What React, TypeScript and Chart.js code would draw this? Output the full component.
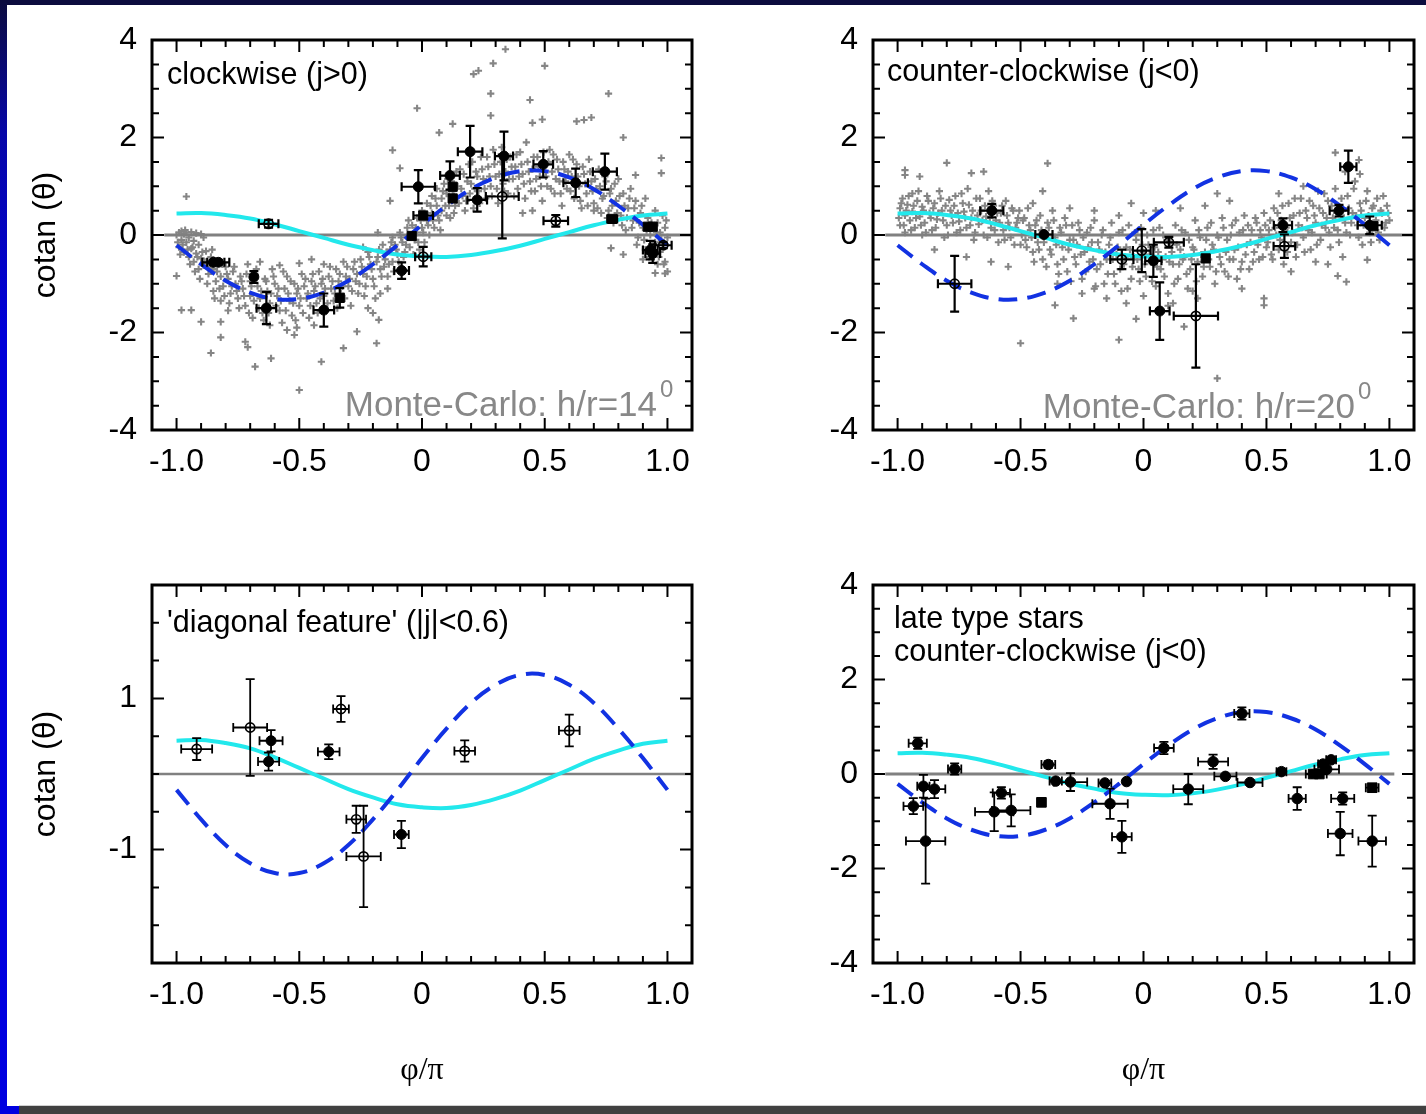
import React, { useEffect, useRef } from 'react';
import { Chart, registerables } from 'chart.js';

Chart.register(...registerables);

// ---------- axis ticks ----------
const X_LABEL_TICKS = [-1, -0.5, 0, 0.5, 1];
const X_MINOR_TICKS = [-1, -0.9, -0.8, -0.7, -0.6, -0.5, -0.4, -0.3, -0.2, -0.1, 0, 0.1, 0.2, 0.3, 0.4, 0.5, 0.6, 0.7, 0.8, 0.9, 1];
const Y_LABELS_WIDE = [-4, -2, 0, 2, 4];
const Y_MINOR_WIDE = [-3.5, -3, -2.5, -2, -1.5, -1, -0.5, 0, 0.5, 1, 1.5, 2, 2.5, 3, 3.5];
const Y_LABELS_DIAG = [-1, 1];
const Y_MINOR_DIAG = [-2, -1.5, -1, -0.5, 0, 0.5, 1, 1.5, 2];

// ---------- model curves ----------
const CURVE_X = [-1, -0.9, -0.8, -0.7, -0.6, -0.5, -0.4, -0.3, -0.2, -0.1, 0, 0.1, 0.2, 0.3, 0.4, 0.5, 0.6, 0.7, 0.8, 0.9, 1];
const CYAN_Y = [0.44, 0.45, 0.41, 0.34, 0.22, 0.08, -0.06, -0.2, -0.31, -0.4, -0.44, -0.45, -0.41, -0.33, -0.22, -0.08, 0.06, 0.2, 0.31, 0.4, 0.44];
const DASH_Y = [-0.21, -0.6, -0.94, -1.18, -1.31, -1.31, -1.18, -0.94, -0.6, -0.21, 0.21, 0.6, 0.94, 1.18, 1.31, 1.31, 1.18, 0.94, 0.6, 0.21, -0.21];

// ---------- panel 1: clockwise (j>0) ----------
// [x, y, xerr, yerr]
const P1_FILLED = [
  [-0.85, -0.56, 0.045, 0.05], [-0.83, -0.56, 0.045, 0.05], [-0.685, -0.86, 0, 0.12], [-0.634, -1.5, 0.04, 0.33],
  [-0.4, -1.54, 0.042, 0.34], [-0.083, -0.73, 0.03, 0.17], [-0.015, 0.99, 0.068, 0.34], [0.114, 1.22, 0.04, 0.29],
  [0.196, 1.71, 0.05, 0.53], [0.225, 0.72, 0.04, 0.24], [0.334, 1.62, 0.037, 0.5], [0.494, 1.45, 0.04, 0.27],
  [0.626, 1.07, 0.05, 0.29], [0.745, 1.3, 0.049, 0.37], [0.93, -0.31, 0.03, 0.19], [0.94, -0.38, 0.03, 0.19],
];
const P1_SQUARE = [
  [-0.335, -1.29, 0, 0.2], [-0.042, -0.02, 0, 0], [0.005, 0.4, 0.04, 0], [0.125, 0.99, 0, 0],
  [0.125, 0.75, 0, 0.06], [0.775, 0.33, 0.02, 0], [0.92, 0.17, 0, 0], [0.94, 0.17, 0, 0],
];
const P1_OPEN = [
  [-0.625, 0.23, 0.04, 0.08], [0.005, -0.445, 0.033, 0.2], [0.327, 0.79, 0.067, 0.86], [0.545, 0.29, 0.05, 0.12], [0.983, -0.21, 0.034, 0.06],
];
const P1_MC = [
  [-0.99, 0.05], [-0.98, -0.1], [-0.99, -0.25], [-0.97, 0.02], [-0.96, -0.15], [-0.97, -0.35], [-0.95, -0.05], [-0.94, -0.28], [-0.95, -0.45], [-0.93, -0.12],
  [-0.92, -0.38], [-0.93, -0.55], [-0.91, -0.2], [-0.9, -0.48], [-0.91, -0.7], [-0.89, -0.05], [-0.88, -0.33], [-0.89, -0.62], [-0.87, -0.8], [-0.96, 0.79],
  [-1.0, -0.84], [-0.98, -1.54], [-0.94, -1.54], [-1.0, 0.0], [-0.98, 0.08], [-0.96, 0.05], [-0.94, 0.06], [-0.92, 0.04], [-0.9, 0.02],
  [-0.86, -0.45], [-0.85, -0.7], [-0.84, -0.95], [-0.85, -1.15], [-0.83, -0.55], [-0.82, -0.85], [-0.81, -1.05], [-0.82, -1.35], [-0.8, -0.65], [-0.79, -0.9],
  [-0.78, -1.2], [-0.79, -1.55], [-0.77, -0.75], [-0.76, -1.0], [-0.75, -1.3], [-0.74, -0.85], [-0.73, -1.1], [-0.72, -1.45], [-0.71, -0.6], [-0.7, -0.95],
  [-0.7, -1.25], [-0.69, -1.7],
  [-0.9, -1.78], [-0.86, -2.42], [-0.82, -1.78], [-0.82, -2.1], [-0.72, -2.19], [-0.71, -2.3], [-0.68, -2.7], [-0.615, -2.53], [-0.52, -2.05], [-0.51, -1.9],
  [-0.41, -2.6], [-0.32, -2.32], [-0.265, -1.98], [-0.185, -2.22], [-0.176, -1.74], [-0.5, -3.18],
  [-0.68, -0.8], [-0.67, -1.05], [-0.66, -1.3], [-0.65, -1.6], [-0.64, -0.9], [-0.63, -1.15], [-0.62, -1.4], [-0.61, -0.7], [-0.6, -1.0], [-0.59, -1.25],
  [-0.58, -1.55], [-0.57, -1.8], [-0.56, -1.1], [-0.55, -0.85], [-0.54, -1.35], [-0.53, -1.65], [-0.52, -1.0], [-0.51, -1.2], [-0.5, -1.45], [-0.49, -0.8],
  [-0.48, -1.05], [-0.47, -1.3], [-0.46, -1.7], [-0.45, -0.95], [-0.44, -1.15], [-0.43, -1.4], [-0.42, -0.75], [-0.41, -1.0], [-0.4, -1.25], [-0.39, -1.55],
  [-0.38, -0.85], [-0.37, -1.1], [-0.36, -1.35], [-0.35, -0.7], [-0.34, -0.95], [-0.33, -1.2], [-0.32, -0.55], [-0.31, -0.85], [-0.3, -1.05], [-0.29, -1.45],
  [-0.66, -0.55], [-0.58, -0.62], [-0.5, -0.58], [-0.45, -0.5], [-0.4, -0.6], [-0.44, -1.85], [-0.55, -1.95], [-0.62, -1.85],
  [-0.28, -0.7], [-0.27, -0.95], [-0.26, -1.2], [-0.25, -0.5], [-0.24, -0.8], [-0.23, -1.05], [-0.22, -0.35], [-0.21, -0.6], [-0.2, -0.9], [-0.19, -1.3],
  [-0.18, -0.45], [-0.17, -0.7], [-0.16, -0.2], [-0.15, -0.5], [-0.14, -0.85], [-0.13, -0.3], [-0.12, -0.05], [-0.12, -0.55], [-0.11, -0.2], [-0.1, -0.4],
  [-0.09, 0.05], [-0.08, -0.15], [-0.07, -0.35], [-0.06, 0.15], [-0.06, -0.05], [-0.05, -0.25], [-0.22, -1.5], [-0.2, -1.6], [-0.17, -1.2], [-0.14, -1.1],
  [-0.24, -0.25], [-0.18, 0.05], [-0.12, 1.74], [-0.13, 0.7], [-0.09, 1.37],
  [-0.04, 0.2], [-0.03, -0.1], [-0.02, 0.35], [-0.02, 0.05], [-0.01, -0.3], [0.0, 0.5], [0.0, 0.15], [0.01, -0.15], [0.02, 0.65], [0.02, 0.3],
  [0.03, 0.0], [0.04, 0.45], [0.04, 0.8], [0.05, 0.15], [0.06, 0.6], [0.06, 0.95], [0.07, 0.3], [0.08, 0.75], [0.08, 0.5], [0.09, 1.05],
  [0.1, 0.4], [0.1, 0.85], [0.11, 0.6], [0.12, 1.1], [0.13, 0.45], [0.13, 0.8], [0.14, 1.3], [0.15, 0.65], [-0.02, 2.6], [0.07, 2.1], [0.125, 2.28],
  [0.16, 0.95], [0.17, 1.25], [0.18, 0.7], [0.19, 1.45], [0.2, 1.05], [0.21, 0.55], [0.22, 1.3], [0.23, 0.9], [0.24, 1.6], [0.25, 1.15],
  [0.26, 0.75], [0.27, 1.4], [0.28, 1.0], [0.29, 1.75], [0.3, 1.2], [0.31, 0.65], [0.32, 1.5], [0.33, 1.05], [0.34, 1.3], [0.35, 0.85],
  [0.36, 1.6], [0.37, 1.15], [0.38, 1.4], [0.39, 0.95], [0.4, 1.7], [0.41, 1.25], [0.42, 0.75], [0.43, 1.5], [0.44, 1.1], [0.45, 1.35],
  [0.34, 3.81], [0.29, 3.52], [0.21, 3.3], [0.23, 3.37], [0.5, 3.47], [0.28, 2.9], [0.44, 2.77], [0.28, 2.45], [0.45, 2.3], [0.49, 2.37],
  [0.76, 2.9], [0.82, 2.0], [0.63, 2.33], [0.66, 2.36], [0.69, 2.41],
  [0.46, 0.9], [0.47, 1.6], [0.48, 1.2], [0.49, 0.7], [0.5, 1.45], [0.51, 1.0], [0.52, 1.75], [0.53, 1.3], [0.54, 0.85], [0.55, 1.55],
  [0.56, 1.1], [0.57, 0.6], [0.58, 1.35], [0.59, 0.95], [0.6, 1.65], [0.61, 1.2], [0.62, 0.75], [0.63, 1.45], [0.64, 1.0], [0.65, 0.55],
  [0.66, 1.25], [0.67, 0.85], [0.68, 1.55], [0.69, 1.1], [0.7, 0.65], [0.71, 0.95], [0.72, 1.35], [0.73, 0.45], [0.74, 0.8], [0.75, 1.1],
  [0.41, 0.45], [0.45, 0.5], [0.7, 0.5],
  [0.76, 0.5], [0.77, 0.95], [0.78, 0.25], [0.79, 0.7], [0.8, 1.15], [0.81, 0.4], [0.82, 0.85], [0.83, 0.1], [0.84, 0.55], [0.85, 0.95],
  [0.86, 0.3], [0.87, 0.7], [0.88, -0.05], [0.89, 0.45], [0.9, 0.15], [0.91, 0.75], [0.91, -0.3], [0.92, 0.35], [0.93, 0.0], [0.94, -0.45],
  [0.95, 0.5], [0.95, -0.15], [0.96, 0.25], [0.96, -0.6], [0.97, 0.05], [0.97, -0.35], [0.98, 0.4], [0.98, -0.2], [0.99, -0.55], [0.99, 0.15],
  [1.0, -0.05], [1.0, -0.75], [0.975, 1.58], [0.975, 1.27], [0.87, 1.23], [0.99, -0.79], [0.95, -0.78], [0.77, -0.27], [0.82, -0.4], [0.9, -0.5],
  [-0.995, -0.15], [-0.985, -0.4], [-0.975, -0.2], [-0.965, 0.1], [-0.955, -0.3], [-0.945, -0.6], [-0.935, -0.25], [-0.925, -0.75], [-0.915, -0.45], [-0.905, -0.9],
  [-0.895, -0.35], [-0.885, -0.55], [-0.875, -1.0], [-0.865, -0.65], [-0.855, -0.3],
  [-0.845, -1.3], [-0.835, -0.75], [-0.825, -1.1], [-0.815, -0.6], [-0.805, -1.25], [-0.795, -0.8], [-0.785, -1.4], [-0.775, -1.05], [-0.765, -0.65], [-0.755, -1.15],
  [-0.745, -1.5], [-0.735, -0.95], [-0.725, -1.25], [-0.715, -0.8], [-0.705, -1.6], [-0.695, -1.05], [-0.685, -1.35], [-0.675, -0.7], [-0.665, -1.5], [-0.655, -1.15],
  [-0.645, -1.75], [-0.635, -0.95], [-0.625, -1.6], [-0.615, -1.2], [-0.605, -0.85], [-0.595, -1.45], [-0.585, -1.1], [-0.575, -1.35], [-0.565, -0.75], [-0.555, -1.55],
  [-0.545, -1.2], [-0.535, -0.95], [-0.525, -1.4], [-0.515, -1.75], [-0.505, -1.1], [-0.495, -1.3], [-0.485, -1.6], [-0.475, -0.9], [-0.465, -1.2], [-0.455, -1.45],
  [-0.445, -0.8], [-0.435, -1.05], [-0.425, -1.6], [-0.415, -1.3], [-0.405, -0.9], [-0.395, -1.1], [-0.385, -1.4], [-0.375, -0.65], [-0.365, -0.95], [-0.355, -1.2],
  [-0.345, -1.5], [-0.335, -0.8], [-0.325, -1.05], [-0.315, -1.3], [-0.305, -0.65],
  [-0.295, -0.9], [-0.285, -1.15], [-0.275, -0.55], [-0.265, -0.8], [-0.255, -1.0], [-0.245, -0.65], [-0.235, -1.25], [-0.225, -0.85], [-0.215, -0.45], [-0.205, -0.7],
  [-0.195, -1.05], [-0.185, -0.55], [-0.175, -0.3], [-0.165, -0.85], [-0.155, -0.65], [-0.145, -0.35], [-0.135, -0.6], [-0.125, -0.15], [-0.115, -0.75], [-0.105, -0.3],
  [-0.095, -0.55], [-0.085, -0.05], [-0.075, -0.45], [-0.065, -0.2], [-0.055, 0.3], [-0.045, -0.05], [-0.035, -0.4], [-0.025, 0.15], [-0.015, -0.15], [-0.005, 0.3],
  [0.005, 0.05], [0.015, 0.4], [0.025, 0.2], [0.035, 0.6], [0.045, 0.3], [0.055, 0.75], [0.065, 0.4], [0.075, 0.1], [0.085, 0.9], [0.095, 0.6],
  [0.105, 1.15], [0.115, 0.35], [0.125, 0.9], [0.135, 0.6], [0.145, 1.0], [0.155, 1.35], [0.165, 0.8], [0.175, 0.5], [0.185, 1.1], [0.195, 0.85],
  [0.205, 1.5], [0.215, 0.95], [0.225, 1.2], [0.235, 0.65], [0.245, 1.35], [0.255, 0.95], [0.265, 1.6], [0.275, 1.2], [0.285, 0.8], [0.295, 1.45],
  [0.305, 0.95], [0.315, 1.25], [0.325, 1.8], [0.335, 0.9], [0.345, 1.55], [0.355, 1.15], [0.365, 1.4], [0.375, 0.8], [0.385, 1.65], [0.395, 1.2],
  [0.405, 1.45], [0.415, 1.05], [0.425, 1.9], [0.435, 1.3], [0.445, 0.9], [0.455, 1.6], [0.465, 1.15], [0.475, 1.4], [0.485, 1.0], [0.495, 1.7],
  [0.505, 1.2], [0.515, 1.5], [0.525, 0.95], [0.535, 1.65], [0.545, 1.15], [0.555, 1.35], [0.565, 0.85], [0.575, 1.5], [0.585, 1.1], [0.595, 1.3],
  [0.605, 0.9], [0.615, 1.55], [0.625, 1.0], [0.635, 1.2], [0.645, 0.7], [0.655, 1.4], [0.665, 1.05], [0.675, 0.6], [0.685, 1.3], [0.695, 0.9],
  [0.705, 1.15], [0.715, 0.55], [0.725, 1.0], [0.735, 0.75], [0.745, 1.2], [0.755, 0.35], [0.765, 0.85], [0.775, 0.6], [0.785, 1.05], [0.795, 0.45],
  [0.805, 0.8], [0.815, 0.2], [0.825, 0.6], [0.835, 0.35], [0.845, 0.75], [0.855, 0.15], [0.865, 0.55], [0.875, -0.2], [0.885, 0.25], [0.895, 0.6],
  [0.905, -0.1], [0.915, 0.1], [0.925, -0.45], [0.935, 0.25], [0.945, -0.2], [0.955, 0.05], [0.965, -0.45], [0.975, -0.1], [0.985, -0.6], [0.995, 0.3],
];

// ---------- panel 2: counter-clockwise (j<0) ----------
const P2_FILLED = [
  [-0.617, 0.5, 0.047, 0.14], [-0.405, 0.01, 0.035, 0], [0.04, -0.53, 0.033, 0.33], [0.066, -1.56, 0.04, 0.59],
  [0.567, 0.2, 0.037, 0.14], [0.795, 0.5, 0.038, 0.12], [0.833, 1.4, 0.033, 0.33], [0.92, 0.2, 0.049, 0.18],
];
const P2_SQUARE = [[0.253, -0.48, 0, 0], [0.935, 0.18, 0, 0]];
const P2_OPEN = [
  [-0.768, -1.0, 0.068, 0.57], [-0.088, -0.5, 0.047, 0.2], [-0.007, -0.32, 0.036, 0.44], [0.103, -0.15, 0.061, 0.11],
  [0.213, -1.66, 0.09, 1.06], [0.573, -0.23, 0.044, 0.24],
];
const P2_MC = [
  [-0.99, 0.55], [-0.99, 0.2], [-0.98, 0.75], [-0.97, 0.4], [-0.97, 0.05], [-0.96, 0.62], [-0.95, 0.3], [-0.94, 0.85], [-0.94, 0.48], [-0.93, 0.15],
  [-0.92, 0.7], [-0.91, 0.38], [-0.9, 0.58], [-0.9, 0.0], [-0.89, 0.25], [-0.88, 0.8], [-0.87, 0.45], [-0.86, 0.1], [-0.85, 0.65], [-0.84, 0.32],
  [-0.83, 0.9], [-0.82, 0.5], [-0.81, -0.05], [-0.8, 0.2], [-0.79, 0.72], [-0.78, 0.4], [-0.77, 0.6], [-0.76, 0.05], [-0.75, 0.28], [-0.74, 0.85],
  [-0.73, 0.48], [-0.72, 0.15], [-0.71, 0.62], [-0.7, 0.35], [-0.69, -0.1], [-0.68, 0.75], [-0.67, 0.22], [-0.66, 0.5], [-0.65, 0.0], [-0.64, 0.38],
  [-0.63, 0.9], [-0.62, 0.15], [-0.61, 0.6], [-0.6, 0.3], [-0.59, -0.15], [-0.58, 0.45], [-0.57, 0.1], [-0.56, 0.7], [-0.55, 0.25], [-0.54, -0.05],
  [-0.53, 0.5], [-0.52, 0.15], [-0.51, 0.35], [-0.5, -0.2],
  [-0.8, 1.48], [-0.39, 1.47], [-0.97, 1.33], [-0.97, 1.23], [-0.91, 1.2], [-0.7, 1.27], [-0.65, 1.3], [-0.5, -2.22], [-0.285, -1.71], [-0.36, -1.44],
  [-0.1, -2.15], [-0.03, -1.72], [0.3, -2.94], [0.49, -1.44], [0.49, -1.3], [0.165, -1.88], [0.825, -0.96], [0.79, -0.84], [0.91, -0.51], [0.78, 1.69],
  [0.876, 1.54], [-0.62, -0.55], [-0.55, -0.65], [-0.72, -0.45], [-0.85, -0.3],
  [-0.2, -1.1], [0.0, -1.25], [0.1, -1.45], [0.2, -1.15], [-0.35, -1.0],
  [-0.49, 0.3], [-0.48, -0.1], [-0.47, 0.55], [-0.46, 0.1], [-0.45, -0.35], [-0.44, 0.2], [-0.43, -0.15], [-0.42, 0.4], [-0.41, -0.5], [-0.4, 0.0],
  [-0.39, 0.25], [-0.38, -0.3], [-0.37, 0.5], [-0.36, -0.05], [-0.35, -0.6], [-0.34, 0.15], [-0.33, -0.25], [-0.32, 0.35], [-0.31, -0.75], [-0.3, -0.1],
  [-0.29, 0.2], [-0.28, -0.45], [-0.27, -0.2], [-0.26, 0.1], [-0.25, -0.9], [-0.24, -0.35], [-0.23, 0.05], [-0.22, -0.55], [-0.21, -0.15], [-0.2, 0.3],
  [-0.19, -0.7], [-0.18, -0.3], [-0.17, 0.0], [-0.16, -1.0], [-0.15, -0.5], [-0.14, -0.2], [-0.13, 0.25], [-0.12, -0.8], [-0.11, -0.4], [-0.1, 0.05],
  [-0.09, -1.15], [-0.08, -0.6], [-0.07, -0.25], [-0.06, 0.2], [-0.05, -0.9], [-0.04, -0.45], [-0.03, -0.1], [-0.02, -0.7], [-0.01, 0.15], [0.0, -0.35],
  [-0.45, 0.65], [-0.3, 0.55], [-0.2, 0.5], [-0.1, 0.4], [0.0, 0.45], [-0.15, -1.3], [-0.07, -1.4], [-0.25, -1.2], [-0.41, 0.9], [-0.05, 0.65],
  [0.01, -0.85], [0.02, -0.2], [0.03, -0.55], [0.04, 0.1], [0.05, -1.05], [0.06, -0.35], [0.07, -0.7], [0.08, 0.0], [0.09, -0.45], [0.1, -1.2],
  [0.11, -0.15], [0.12, -0.6], [0.13, 0.2], [0.14, -0.9], [0.15, -0.3], [0.16, -0.5], [0.17, 0.05], [0.18, -1.1], [0.19, -0.7], [0.2, -0.25],
  [0.21, 0.3], [0.22, -0.55], [0.23, -0.05], [0.24, -0.85], [0.25, -0.35], [0.26, 0.15], [0.27, -0.65], [0.28, -0.2], [0.29, -1.0], [0.3, 0.0],
  [0.31, -0.45], [0.32, 0.35], [0.33, -0.75], [0.34, -0.1], [0.35, -0.5], [0.36, 0.2], [0.37, -0.3], [0.38, -0.9], [0.39, 0.05], [0.4, -0.55],
  [0.41, 0.4], [0.42, -0.2], [0.43, -0.7], [0.44, 0.1], [0.45, -0.35], [0.46, 0.25], [0.47, -0.5], [0.48, -0.05], [0.49, 0.45], [0.5, -0.25],
  [0.05, 0.5], [0.15, 0.55], [0.25, 0.6], [0.35, 0.7], [0.12, -1.4], [0.22, -1.3], [0.4, -1.1], [0.3, 0.85],
  [0.51, 0.1], [0.52, -0.4], [0.53, 0.55], [0.54, 0.0], [0.55, -0.3], [0.56, 0.3], [0.57, -0.6], [0.58, 0.15], [0.59, 0.65], [0.6, -0.15],
  [0.61, 0.4], [0.62, -0.45], [0.63, 0.2], [0.64, 0.75], [0.65, -0.05], [0.66, 0.5], [0.67, 0.1], [0.68, -0.3], [0.69, 0.6], [0.7, 0.25],
  [0.71, 0.9], [0.72, -0.1], [0.73, 0.45], [0.74, 0.15], [0.75, 0.7], [0.76, -0.25], [0.77, 0.35], [0.78, 0.95], [0.79, 0.1], [0.8, 0.55],
  [0.81, -0.45], [0.82, 0.25], [0.83, 0.8], [0.84, 0.0], [0.85, 0.45], [0.86, 1.1], [0.87, 0.2], [0.88, 0.65], [0.89, -0.2], [0.9, 0.35],
  [0.91, 0.9], [0.92, 0.05], [0.93, 0.55], [0.94, 0.25], [0.95, 0.75], [0.96, -0.1], [0.97, 0.45], [0.98, 0.15], [0.99, 0.6], [1.0, 0.3],
  [0.55, 0.85], [0.65, 1.0], [0.82, 1.3], [0.88, 1.25], [0.6, -0.75], [0.7, -0.55], [0.75, -0.6],
  [-0.995, 0.35], [-0.985, 0.65], [-0.975, 0.2], [-0.965, 0.5], [-0.955, 0.8], [-0.945, 0.1], [-0.935, 0.6], [-0.925, 0.35], [-0.915, 0.9], [-0.905, 0.2],
  [-0.895, 0.5], [-0.885, 0.05], [-0.875, 0.7], [-0.865, 0.35], [-0.855, 0.55], [-0.845, 0.15], [-0.835, 0.45], [-0.825, 0.75], [-0.815, 0.3], [-0.805, 0.6],
  [-0.795, 0.0], [-0.785, 0.5], [-0.775, 0.25], [-0.765, 0.8], [-0.755, 0.45], [-0.745, 0.1], [-0.735, 0.65], [-0.725, 0.35], [-0.715, 0.95], [-0.705, 0.2],
  [-0.695, 0.5], [-0.685, 0.05], [-0.675, 0.4], [-0.665, 0.75], [-0.655, 0.3], [-0.645, 0.6], [-0.635, -0.05], [-0.625, 0.35], [-0.615, 0.7], [-0.605, 0.1],
  [-0.595, 0.45], [-0.585, 0.25], [-0.575, 0.6], [-0.565, -0.1], [-0.555, 0.4], [-0.545, 0.15], [-0.535, 0.55], [-0.525, -0.2], [-0.515, 0.25], [-0.505, 0.5],
  [-0.495, 0.0], [-0.485, 0.35], [-0.475, -0.25], [-0.465, 0.2], [-0.455, -0.05], [-0.445, -0.55], [-0.435, 0.3], [-0.425, -0.3], [-0.415, 0.1], [-0.405, -0.15],
  [-0.395, -0.65], [-0.385, 0.15], [-0.375, -0.4], [-0.365, 0.3], [-0.355, -0.2], [-0.345, -0.8], [-0.335, 0.05], [-0.325, -0.5], [-0.315, 0.2], [-0.305, -0.3],
  [-0.295, -0.95], [-0.285, -0.1], [-0.275, -0.6], [-0.265, 0.25], [-0.255, -0.4], [-0.245, -0.05], [-0.235, -0.75], [-0.225, -0.25], [-0.215, 0.15], [-0.205, -0.5],
  [-0.195, -1.05], [-0.185, -0.15], [-0.175, -0.6], [-0.165, 0.1], [-0.155, -0.35], [-0.145, -0.8], [-0.135, -0.05], [-0.125, -0.5], [-0.115, -1.0], [-0.105, -0.25],
  [-0.095, -0.7], [-0.085, 0.1], [-0.075, -0.45], [-0.065, -1.1], [-0.055, -0.3], [-0.045, -0.65], [-0.035, 0.05], [-0.025, -0.5], [-0.015, -0.95], [-0.005, -0.2],
  [0.005, -0.6], [0.015, 0.0], [0.025, -0.4], [0.035, -0.95], [0.045, -0.25], [0.055, -0.65], [0.065, 0.15], [0.075, -0.5], [0.085, -0.85], [0.095, -0.1],
  [0.105, -0.55], [0.115, -0.35], [0.125, -1.0], [0.135, -0.2], [0.145, -0.6], [0.155, 0.1], [0.165, -0.45], [0.175, -0.8], [0.185, -0.1], [0.195, -0.5],
  [0.205, -0.3], [0.215, -0.95], [0.225, 0.1], [0.235, -0.4], [0.245, -0.65], [0.255, -0.1], [0.265, -0.5], [0.275, 0.25], [0.285, -0.3], [0.295, -0.75],
  [0.305, -0.05], [0.315, -0.6], [0.325, 0.15], [0.335, -0.35], [0.345, -0.85], [0.355, 0.0], [0.365, -0.5], [0.375, 0.3], [0.385, -0.25], [0.395, -0.7],
  [0.405, 0.1], [0.415, -0.4], [0.425, 0.2], [0.435, -0.15], [0.445, -0.55], [0.455, 0.35], [0.465, -0.2], [0.475, 0.1], [0.485, -0.45], [0.495, 0.2],
  [0.505, -0.15], [0.515, 0.3], [0.525, -0.5], [0.535, 0.15], [0.545, 0.45], [0.555, -0.1], [0.565, 0.6], [0.575, 0.1], [0.585, -0.35], [0.595, 0.35],
  [0.605, 0.05], [0.615, 0.75], [0.625, -0.2], [0.635, 0.45], [0.645, 0.15], [0.655, -0.35], [0.665, 0.35], [0.675, 0.7], [0.685, 0.05], [0.695, 0.4],
  [0.705, -0.2], [0.715, 0.55], [0.725, 0.2], [0.735, 0.85], [0.745, 0.35], [0.755, 0.05], [0.765, 0.6], [0.775, 0.15], [0.785, 0.45], [0.795, -0.15],
  [0.805, 0.75], [0.815, 0.35], [0.825, 0.05], [0.835, 0.55], [0.845, 0.25], [0.855, 0.95], [0.865, 0.4], [0.875, -0.05], [0.885, 0.5], [0.895, 0.2],
  [0.905, 0.7], [0.915, 0.4], [0.925, -0.15], [0.935, 0.6], [0.945, 0.3], [0.955, 0.05], [0.965, 0.5], [0.975, 0.8], [0.985, 0.25], [0.995, 0.45],
];

// ---------- panel 3: 'diagonal feature' ----------
const P3_FILLED = [[-0.615, 0.44, 0.047, 0.14], [-0.625, 0.164, 0.043, 0.12], [-0.38, 0.295, 0.044, 0.097], [-0.084, -0.8, 0.03, 0.18]];
const P3_SQUARE: number[][] = [];
const P3_OPEN = [
  [-0.918, 0.33, 0.063, 0.145], [-0.7, 0.615, 0.069, 0.64], [-0.33, 0.86, 0.032, 0.17], [-0.268, -0.6, 0.04, 0.18],
  [-0.238, -1.09, 0.07, 0.67], [0.174, 0.305, 0.042, 0.14], [0.6, 0.575, 0.042, 0.21],
];

// ---------- panel 4: late type stars ----------
const P4_FILLED = [
  [-0.918, 0.65, 0.037, 0.12], [-0.936, -0.68, 0.04, 0.17], [-0.895, -0.26, 0.025, 0.24], [-0.886, -1.42, 0.08, 0.9],
  [-0.85, -0.32, 0.044, 0.19], [-0.768, 0.105, 0.027, 0.12], [-0.607, -0.8, 0.078, 0.41], [-0.578, -0.4, 0.035, 0.12],
  [-0.538, -0.77, 0.078, 0.34], [-0.387, 0.2, 0.028, 0.07], [-0.357, -0.15, 0.025, 0], [-0.297, -0.17, 0.068, 0.19],
  [-0.157, -0.19, 0.026, 0], [-0.136, -0.63, 0.072, 0.32], [-0.088, -1.33, 0.04, 0.34], [-0.069, -0.16, 0, 0],
  [0.083, 0.55, 0.04, 0.13], [0.182, -0.32, 0.061, 0.32], [0.283, 0.26, 0.061, 0.15], [0.333, -0.05, 0.045, 0],
  [0.4, 1.28, 0.031, 0.13], [0.433, -0.18, 0.051, 0], [0.561, 0.05, 0.02, 0], [0.625, -0.52, 0.035, 0.24],
  [0.73, 0.21, 0.02, 0], [0.745, 0.1, 0.05, 0], [0.763, 0.3, 0.02, 0], [0.81, -0.52, 0.047, 0.13],
  [0.8, -1.26, 0.05, 0.46], [0.93, -1.42, 0.056, 0.54],
];
const P4_SQUARE = [[-0.415, -0.6, 0, 0], [0.69, 0.0, 0.03, 0], [0.715, 0.0, 0.03, 0], [0.93, -0.29, 0.026, 0]];
const P4_OPEN: number[][] = [];

const SANS = '"Liberation Sans", Arial, Helvetica, sans-serif';
const SERIF = '"Liberation Serif", "Times New Roman", serif';
const GREY = '#808080';
const CYAN = '#22e8ec';
const BLUE = '#1232e2';

type TextItem = { text: string; x: number; y: number; size: number; color: string; align: CanvasTextAlign; baseline: CanvasTextBaseline; anchorX: 'left' | 'right'; anchorY: 'top' | 'bottom' };

interface Panel {
  key: string;
  left: number; top: number; width: number; height: number;
  yAxisW: number; padTop: number; padRight: number; padBottom: number; xAxisH: number;
  yMin: number; yMax: number; yLabels: number[]; yMinor: number[];
  filled: number[][]; open: number[][]; squares: number[][]; mc: number[][];
  zero: [number, number]; zeroWidth: number; errWidth: number; markerScale: number;
  yTitle: boolean; xTitle: boolean;
  texts: TextItem[];
}

const txt = (text: string, anchorX: 'left' | 'right', x: number, anchorY: 'top' | 'bottom', y: number, size: number, color = '#000', baseline: CanvasTextBaseline = 'middle'): TextItem => ({
  text, x, y, size, color, align: anchorX === 'left' ? 'left' : 'right', baseline, anchorX, anchorY,
});

const PANELS: Panel[] = [
  {
    key: 'p1', left: 0, top: 0, width: 713, height: 540,
    yAxisW: 152, padTop: 40, padRight: 21, padBottom: 40, xAxisH: 70,
    yMin: -4, yMax: 4, yLabels: Y_LABELS_WIDE, yMinor: Y_MINOR_WIDE,
    filled: P1_FILLED, open: P1_OPEN, squares: P1_SQUARE, mc: P1_MC,
    zero: [-1.05, 1.1], zeroWidth: 3, errWidth: 2.2, markerScale: 1,
    yTitle: true, xTitle: false,
    texts: [
      txt('clockwise (j>0)', 'left', 15, 'top', 36, 30.5),
      txt('Monte-Carlo: h/r=14', 'right', 35, 'bottom', 14, 35, '#888888', 'alphabetic'),
      { text: '0', x: 32, y: 33, size: 24, color: '#888888', align: 'left', baseline: 'alphabetic', anchorX: 'right', anchorY: 'bottom' },
    ],
  },
  {
    key: 'p2', left: 713, top: 0, width: 713, height: 540,
    yAxisW: 160, padTop: 40, padRight: 12, padBottom: 40, xAxisH: 70,
    yMin: -4, yMax: 4, yLabels: Y_LABELS_WIDE, yMinor: Y_MINOR_WIDE,
    filled: P2_FILLED, open: P2_OPEN, squares: P2_SQUARE, mc: P2_MC,
    zero: [-1.05, 1.1], zeroWidth: 3, errWidth: 2.2, markerScale: 1,
    yTitle: false, xTitle: false,
    texts: [
      txt('counter-clockwise (j<0)', 'left', 14, 'top', 33, 30.5),
      txt('Monte-Carlo: h/r=20', 'right', 59, 'bottom', 12, 35, '#888888', 'alphabetic'),
      { text: '0', x: 56, y: 31, size: 24, color: '#888888', align: 'left', baseline: 'alphabetic', anchorX: 'right', anchorY: 'bottom' },
    ],
  },
  {
    key: 'p3', left: 0, top: 540, width: 713, height: 574,
    yAxisW: 152, padTop: 45, padRight: 21, padBottom: 11, xAxisH: 140,
    yMin: -2.5, yMax: 2.5, yLabels: Y_LABELS_DIAG, yMinor: Y_MINOR_DIAG,
    filled: P3_FILLED, open: P3_OPEN, squares: P3_SQUARE, mc: [],
    zero: [-1.1, 1.1], zeroWidth: 2.5, errWidth: 1.8, markerScale: 1,
    yTitle: true, xTitle: true,
    texts: [txt("'diagonal feature' (|j|<0.6)", 'left', 15, 'top', 39, 30.5)],
  },
  {
    key: 'p4', left: 713, top: 540, width: 713, height: 574,
    yAxisW: 160, padTop: 45, padRight: 12, padBottom: 11, xAxisH: 140,
    yMin: -4, yMax: 4, yLabels: Y_LABELS_WIDE, yMinor: Y_MINOR_WIDE,
    filled: P4_FILLED, open: P4_OPEN, squares: P4_SQUARE, mc: [],
    zero: [-1.05, 1.02], zeroWidth: 3, errWidth: 1.8, markerScale: 1.05,
    yTitle: false, xTitle: true,
    texts: [
      txt('late type stars', 'left', 21, 'top', 35, 30.5),
      txt('counter-clockwise (j<0)', 'left', 21, 'top', 68, 30.5),
    ],
  },
];

const toPts = (arr: number[][]) => arr.map((r) => ({ x: r[0], y: r[1], ex: r[2] || 0, ey: r[3] || 0 }));
const fmtX = (v: number) => (v === 0 ? '0' : v.toFixed(1));

function buildConfig(p: Panel): any {
  const decor = {
    id: 'decor_' + p.key,
    beforeDatasetDraw(chart: any, args: any) {
      const ds = chart.data.datasets[args.index];
      if (!ds.errorBars) return;
      const { ctx, chartArea: a } = chart;
      const xs = chart.scales.x;
      const ys = chart.scales.y;
      ctx.save();
      ctx.beginPath();
      ctx.rect(a.left, a.top, a.right - a.left, a.bottom - a.top);
      ctx.clip();
      ctx.strokeStyle = '#000';
      ctx.lineWidth = p.errWidth;
      const cap = 4.5;
      for (const d of ds.data) {
        const px = xs.getPixelForValue(d.x);
        const py = ys.getPixelForValue(d.y);
        ctx.beginPath();
        if (d.ex) {
          const x0 = xs.getPixelForValue(d.x - d.ex);
          const x1 = xs.getPixelForValue(d.x + d.ex);
          ctx.moveTo(x0, py); ctx.lineTo(x1, py);
          ctx.moveTo(x0, py - cap); ctx.lineTo(x0, py + cap);
          ctx.moveTo(x1, py - cap); ctx.lineTo(x1, py + cap);
        }
        if (d.ey) {
          const y0 = ys.getPixelForValue(d.y - d.ey);
          const y1 = ys.getPixelForValue(d.y + d.ey);
          ctx.moveTo(px, y0); ctx.lineTo(px, y1);
          ctx.moveTo(px - cap, y0); ctx.lineTo(px + cap, y0);
          ctx.moveTo(px - cap, y1); ctx.lineTo(px + cap, y1);
        }
        ctx.stroke();
      }
      ctx.restore();
    },
    afterDraw(chart: any) {
      const { ctx, chartArea: a } = chart;
      const xs = chart.scales.x;
      const ys = chart.scales.y;
      ctx.save();
      ctx.strokeStyle = '#000';
      ctx.lineWidth = 2;
      ctx.beginPath();
      for (const v of X_MINOR_TICKS) {
        const px = xs.getPixelForValue(v);
        const L = X_LABEL_TICKS.includes(v) ? 12 : 7;
        ctx.moveTo(px, a.bottom); ctx.lineTo(px, a.bottom - L);
        ctx.moveTo(px, a.top); ctx.lineTo(px, a.top + L);
      }
      for (const v of p.yMinor) {
        const py = ys.getPixelForValue(v);
        const L = p.yLabels.includes(v) ? 12 : 7;
        ctx.moveTo(a.left, py); ctx.lineTo(a.left + L, py);
        ctx.moveTo(a.right, py); ctx.lineTo(a.right - L, py);
      }
      ctx.stroke();
      ctx.lineWidth = 3;
      ctx.strokeRect(a.left, a.top, a.right - a.left, a.bottom - a.top);
      for (const t of p.texts) {
        ctx.font = `${t.size}px ${SANS}`;
        ctx.fillStyle = t.color;
        ctx.textAlign = t.align;
        ctx.textBaseline = t.baseline;
        const x = t.anchorX === 'left' ? a.left + t.x : a.right - t.x;
        const y = t.anchorY === 'top' ? a.top + t.y : a.bottom - t.y;
        ctx.fillText(t.text, x, y);
      }
      ctx.restore();
    },
  };

  const curve = (ys: number[]) => CURVE_X.map((x, i) => ({ x, y: ys[i] }));
  const s = p.markerScale;

  const datasets: any[] = [
    {
      label: 'filled', data: toPts(p.filled), errorBars: true, order: 0,
      pointStyle: 'circle', pointRadius: 5 * s, backgroundColor: '#000', borderColor: '#000', borderWidth: 1,
    },
    {
      label: 'squares', data: toPts(p.squares), errorBars: true, order: 0,
      pointStyle: 'rect', pointRadius: 6.5 * s, backgroundColor: '#000', borderColor: '#000', borderWidth: 1,
    },
    {
      label: 'open', data: toPts(p.open), errorBars: true, order: 0,
      pointStyle: 'circle', pointRadius: 4.6 * s, backgroundColor: 'rgba(0,0,0,0)', borderColor: '#000', borderWidth: 1.7,
    },
    {
      label: 'dashed model', data: curve(DASH_Y), showLine: true, order: 1, pointRadius: 0,
      borderColor: BLUE, borderWidth: 4, borderDash: [19, 10], tension: 0.4, fill: false,
    },
    {
      label: 'cyan model', data: curve(CYAN_Y), showLine: true, order: 2, pointRadius: 0,
      borderColor: CYAN, borderWidth: 4, tension: 0.4, fill: false,
    },
    {
      label: 'zero', data: [{ x: p.zero[0], y: 0 }, { x: p.zero[1], y: 0 }], showLine: true, order: 3, pointRadius: 0,
      borderColor: GREY, borderWidth: p.zeroWidth, fill: false,
    },
    {
      label: 'monte carlo', data: p.mc.map((r) => ({ x: r[0], y: r[1] })), order: 4,
      pointStyle: 'cross', pointRadius: 3.6, borderColor: '#858585', backgroundColor: '#858585', borderWidth: 2.1,
    },
  ];

  return {
    type: 'scatter',
    data: { datasets },
    plugins: [decor],
    options: {
      animation: false,
      responsive: false,
      events: [],
      layout: { padding: { left: 0, top: p.padTop, right: p.padRight, bottom: p.padBottom } },
      plugins: { legend: { display: false }, tooltip: { enabled: false }, title: { display: false } },
      scales: {
        x: {
          type: 'linear', min: -1.1, max: 1.1,
          grid: { display: false, drawTicks: false },
          border: { display: false },
          afterBuildTicks: (sc: any) => { sc.ticks = X_LABEL_TICKS.map((v) => ({ value: v })); },
          afterFit: (sc: any) => { sc.height = p.xAxisH; sc.paddingLeft = 0; sc.paddingRight = 0; },
          ticks: {
            autoSkip: false, maxRotation: 0, padding: 13, color: '#000',
            font: { family: SANS, size: 32, lineHeight: 1.2 },
            callback: (v: any) => fmtX(Number(v)),
          },
          title: {
            display: p.xTitle, text: 'φ/π', color: '#000',
            font: { family: SERIF, size: 32, lineHeight: 1.2 },
            padding: { top: 0, bottom: 13 },
          },
        },
        y: {
          type: 'linear', min: p.yMin, max: p.yMax,
          grid: { display: false, drawTicks: false },
          border: { display: false },
          afterBuildTicks: (sc: any) => { sc.ticks = p.yLabels.map((v) => ({ value: v })); },
          afterFit: (sc: any) => { sc.width = p.yAxisW; sc.paddingTop = 0; sc.paddingBottom = 0; },
          ticks: {
            autoSkip: false, padding: 15, color: '#000',
            font: { family: SANS, size: 32, lineHeight: 1.2 },
            callback: (v: any) => String(v),
          },
          title: {
            display: p.yTitle, text: 'cotan (θ)', color: '#000',
            font: { family: SANS, size: 32, lineHeight: 1.2 },
            padding: { top: 27, bottom: 0 },
          },
        },
      },
    },
  };
}

function PanelChart({ p }: { p: Panel }) {
  const ref = useRef<HTMLCanvasElement | null>(null);
  useEffect(() => {
    if (!ref.current) return;
    const chart = new Chart(ref.current, buildConfig(p));
    return () => chart.destroy();
  }, [p]);
  return (
    <canvas
      ref={ref}
      width={p.width}
      height={p.height}
      style={{ position: 'absolute', left: p.left, top: p.top, width: p.width, height: p.height }}
    />
  );
}

export default function App() {
  return (
    <div style={{ position: 'absolute', left: 0, top: 0, width: 1426, height: 1114, background: '#ffffff', overflow: 'hidden' }}>
      {PANELS.map((p) => (
        <PanelChart key={p.key} p={p} />
      ))}
      <div style={{ position: 'absolute', left: 0, top: 0, width: 1426, height: 5, background: '#0c0c3e' }} />
      <div style={{ position: 'absolute', left: 0, top: 0, width: 7, height: 1114, background: 'linear-gradient(to bottom, #0c0c3e 0%, #0606a8 12%, #0000d8 30%, #0000e0 100%)' }} />
      <div style={{ position: 'absolute', left: 0, top: 1106, width: 19, height: 8, background: '#0000e0' }} />
      <div style={{ position: 'absolute', left: 19, top: 1105, width: 1407, height: 1, background: '#d0d0d0' }} />
      <div style={{ position: 'absolute', left: 19, top: 1106, width: 1407, height: 8, background: '#404040' }} />
    </div>
  );
}
